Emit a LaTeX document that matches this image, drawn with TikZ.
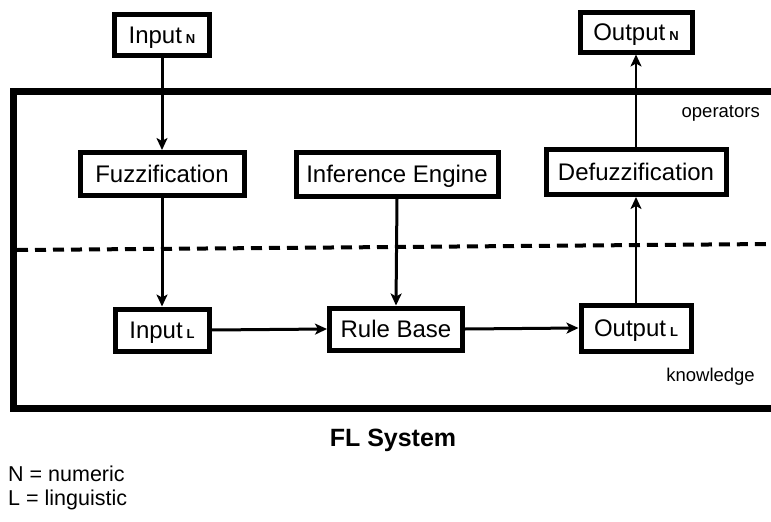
\documentclass[tikz,border=0pt]{standalone}
\usepackage{fontspec}
\setmainfont{Liberation Sans}
\usetikzlibrary{arrows.meta}
\begin{document}
\begin{tikzpicture}[x=1pt,y=-1pt,
  box/.style={draw=black,line width=5pt,fill=white,inner sep=0pt,font=\fontsize{24}{26}\selectfont,text height=17pt,text depth=1pt},
  conn/.style={line width=3pt,-{Stealth[length=12pt,width=11pt,inset=3pt]}},
  thinconn/.style={line width=2pt,-{Stealth[length=12pt,width=11pt,inset=3pt]}},
  lbl/.style={inner sep=0pt,font=\fontsize{18.5}{20}\selectfont}]
\newcommand{\subN}{\,{\bfseries\fontsize{13}{14}\selectfont N}}
\newcommand{\subL}{\,{\bfseries\fontsize{13}{14}\selectfont L}}
\useasboundingbox (0,0) rectangle (771,522);
% frame
\draw[line width=7pt] (775,91) -- (13,91) -- (13,408) -- (775,408);
\draw[line width=4pt,dash pattern=on 11pt off 7pt] (17,250) -- (771,244);
% boxes
\node[box,minimum width=95pt,minimum height=41pt] (inN) at (162,35) {Input\subN};
\node[box,minimum width=112pt,minimum height=40pt] (outN) at (636,32) {Output\subN};
\node[box,minimum width=164pt,minimum height=43pt] (fuzz) at (162,174) {Fuzzification};
\node[box,minimum width=202pt,minimum height=44pt] (inf) at (397,174) {Inference Engine};
\node[box,minimum width=180pt,minimum height=45pt] (defuzz) at (636,172) {Defuzzification};
\node[box,minimum width=94pt,minimum height=42pt] (inL) at (162,330) {Input\subL};
\node[box,minimum width=133pt,minimum height=42pt] (rule) at (396,329) {Rule Base};
\node[box,minimum width=110pt,minimum height=46pt] (outL) at (636,328) {Output\subL};
% labels
\node[lbl,anchor=east] (ops) at (760,113) {operators};
\node[lbl,anchor=east] (know) at (755,377) {knowledge};
\node[inner sep=0pt,font=\bfseries\fontsize{25}{28}\selectfont] (title) at (393,440) {FL System};
\node[lbl,anchor=west,font=\fontsize{21.5}{24}\selectfont] (legN) at (8,474) {N = numeric};
\node[lbl,anchor=west,font=\fontsize{21.5}{24}\selectfont] (legL) at (8,500) {L = linguistic};
% connectors
\draw[conn] (inN.south) -- (fuzz.north);
\draw[conn] (fuzz.south) -- (inL.north);
\draw[conn] (inf.south) -- (rule.north);
\draw[conn] (inL.east) -- (rule.west);
\draw[conn] (rule.east) -- (outL.west);
\draw[thinconn] (outL.north) -- (defuzz.south);
\draw[thinconn] (defuzz.north) -- (outN.south);
\end{tikzpicture}
\end{document}
